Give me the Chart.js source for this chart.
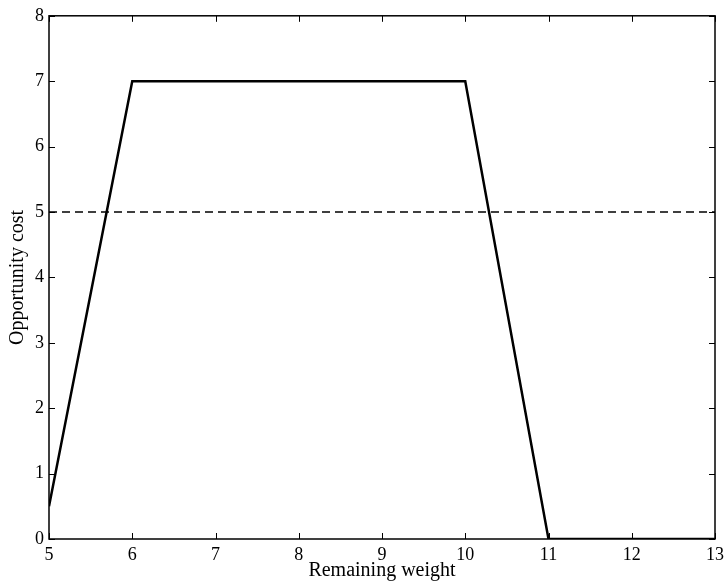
<!DOCTYPE html>
<html>
<head>
<meta charset="utf-8">
<script src="https://cdn.jsdelivr.net/npm/chart.js@4/dist/chart.umd.min.js"></script>
<style>
  html, body { margin: 0; padding: 0; background: #fff; }
  #wrap { width: 724px; height: 587px; }
</style>
</head>
<body>
<div id="wrap"><canvas id="chart" width="724" height="587"></canvas></div>
<script>
  // data
  const weightValues = [5, 6, 10, 11, 13];
  const costValues = [0.5, 7, 7, 0, 0];
  const thresholdWeights = [5, 13];
  const thresholdCosts = [5, 5];
  const xTicks = [5, 6, 7, 8, 9, 10, 11, 12, 13];
  const yTicks = [0, 1, 2, 3, 4, 5, 6, 7, 8];

  const serif = 'Liberation Serif, Times New Roman, serif';

  function toPoints(xs, ys) {
    return xs.map(function (x, i) { return { x: x, y: ys[i] }; });
  }

  // matlab style box with inward ticks on all four sides
  const framePlugin = {
    id: 'frame',
    afterDraw: function (chart) {
      var ctx = chart.ctx;
      var a = chart.chartArea;
      var xs = chart.scales.x;
      var ys = chart.scales.y;
      var len = 6;
      ctx.save();
      ctx.strokeStyle = '#000';
      ctx.lineWidth = 1.5;
      ctx.strokeRect(a.left, a.top, a.right - a.left, a.bottom - a.top);
      ctx.lineWidth = 1;
      ctx.beginPath();
      xTicks.forEach(function (v) {
        var px = Math.round(xs.getPixelForValue(v)) + 0.5;
        ctx.moveTo(px, a.bottom); ctx.lineTo(px, a.bottom - len);
        ctx.moveTo(px, a.top); ctx.lineTo(px, a.top + len);
      });
      yTicks.forEach(function (v) {
        var py = Math.round(ys.getPixelForValue(v)) + 0.5;
        ctx.moveTo(a.left, py); ctx.lineTo(a.left + len, py);
        ctx.moveTo(a.right, py); ctx.lineTo(a.right - len, py);
      });
      ctx.stroke();
      ctx.restore();
    }
  };

  new Chart(document.getElementById('chart'), {
    type: 'line',
    data: {
      datasets: [{
        data: toPoints(weightValues, costValues),
        borderColor: '#000',
        borderWidth: 2.5,
        pointRadius: 0,
        tension: 0,
        fill: false
      }, {
        data: toPoints(thresholdWeights, thresholdCosts),
        borderColor: '#000',
        borderWidth: 1.3,
        borderDash: [8, 5],
        pointRadius: 0,
        tension: 0,
        fill: false
      }]
    },
    options: {
      responsive: false,
      animation: false,
      layout: { padding: { top: 14, right: 0, left: 0, bottom: 0 } },
      plugins: { legend: { display: false }, tooltip: { enabled: false } },
      scales: {
        x: {
          type: 'linear',
          min: 5,
          max: 13,
          afterBuildTicks: function (s) { s.ticks = xTicks.map(function (v) { return { value: v }; }); },
          afterFit: function (s) { s.height = 48; s.paddingRight = 9; s.paddingLeft = 0; },
          grid: { display: false, drawTicks: false },
          border: { display: false },
          ticks: { color: '#000', padding: 5, maxRotation: 0, font: { family: serif, size: 18 } },
          title: {
            display: true,
            text: 'Remaining weight',
            color: '#000',
            padding: { top: 4, bottom: 4 },
            font: { family: serif, size: 20 }
          }
        },
        y: {
          type: 'linear',
          min: 0,
          max: 8,
          afterBuildTicks: function (s) { s.ticks = yTicks.map(function (v) { return { value: v }; }); },
          afterFit: function (s) { s.width = 49; },
          grid: { display: false, drawTicks: false },
          border: { display: false },
          ticks: { color: '#000', padding: 5, font: { family: serif, size: 18 } },
          title: {
            display: true,
            text: 'Opportunity cost',
            color: '#000',
            padding: { top: 6, bottom: 4 },
            font: { family: serif, size: 20 }
          }
        }
      }
    },
    plugins: [framePlugin]
  });
</script>
</body>
</html>
